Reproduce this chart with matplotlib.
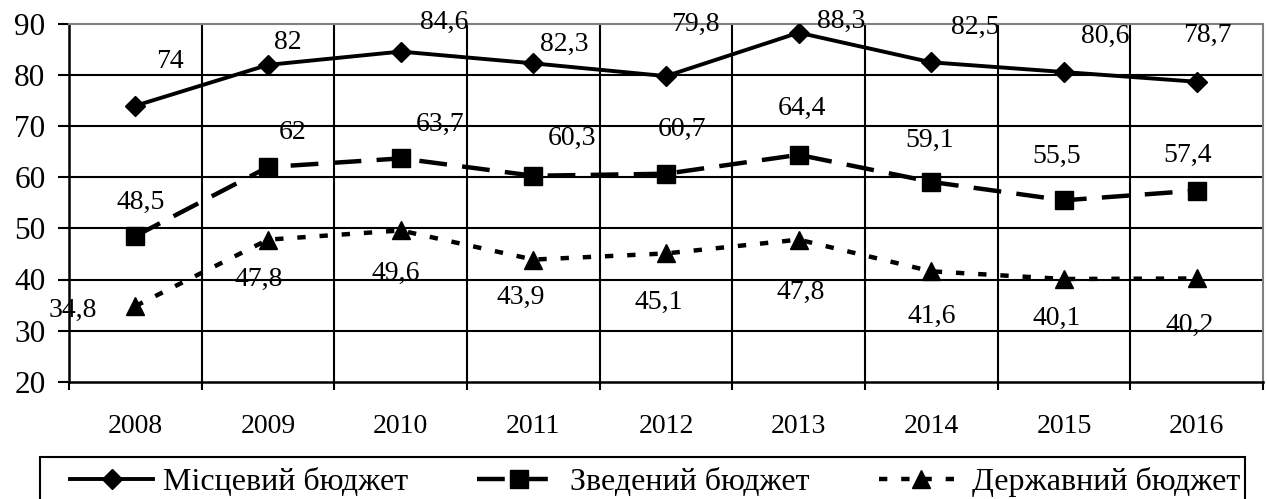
import matplotlib
matplotlib.use("Agg")
import matplotlib.pyplot as plt
from matplotlib.patches import Rectangle

plt.rcParams['font.family'] = ['Liberation Serif', 'DejaVu Serif']
plt.rcParams['lines.scale_dashes'] = False

years = ['2008', '2009', '2010', '2011', '2012', '2013', '2014', '2015', '2016']
local_budget = [74, 82, 84.6, 82.3, 79.8, 88.3, 82.5, 80.6, 78.7]
consolidated_budget = [48.5, 62, 63.7, 60.3, 60.7, 64.4, 59.1, 55.5, 57.4]
state_budget = [34.8, 47.8, 49.6, 43.9, 45.1, 47.8, 41.6, 40.1, 40.2]
series_names = ['Місцевий бюджет', 'Зведений бюджет', 'Державний бюджет']

# label offsets from each point, in pixels (dx right, dy up)
local_offsets = [(35, 44), (20, 22), (44, 29), (31, 19), (29, 52),
                 (43, 11), (44, 35), (41, 36), (11, 46)]
consolidated_offsets = [(5, 34), (25, 35), (39, 34), (39, 37), (16, 44),
                        (3, 46), (-2, 41), (-7, 44), (-9, 35)]
state_offsets = [(-63, -4), (-9, -40), (-5, -43), (-13, -38), (-7, -49),
                 (2, -53), (0, -45), (-7, -39), (-7, -47)]

W, H = 1267, 499
fig = plt.figure(figsize=(W / 100, H / 100), dpi=100)
ax = fig.add_axes([69 / W, (H - 381.7) / H, (1263 - 69) / W, (381.7 - 24) / H])

x = list(range(len(years)))
ax.set_xlim(-0.5, len(years) - 0.5)
ax.set_ylim(20, 90)

# grid
for yv in range(30, 90, 10):
    ax.axhline(yv, color='black', lw=1.5, zorder=1)
for xv in [i + 0.5 for i in range(len(years) - 1)]:
    ax.axvline(xv, color='black', lw=1.5, zorder=1)

for side in ['top', 'right']:
    ax.spines[side].set_color('#808080')
    ax.spines[side].set_linewidth(1.5)
for side in ['left', 'bottom']:
    ax.spines[side].set_color('black')
    ax.spines[side].set_linewidth(1.8)

ax.set_yticks(range(20, 91, 10))
ax.tick_params(axis='y', length=8, width=1.5, pad=9, labelsize=22.5)

ax.set_xticks([i - 0.5 for i in range(len(years) + 1)])
ax.set_xticklabels([])
ax.set_xticks(x, minor=True)
ax.set_xticklabels(years, minor=True)
ax.tick_params(axis='x', which='major', length=6, width=1.5)
ax.tick_params(axis='x', which='minor', length=0, pad=23, labelsize=20)

ax.plot(x, local_budget, color='black', lw=2.8, marker='D', ms=10.5,
        zorder=3, label=series_names[0])
ax.plot(x, consolidated_budget, color='black', lw=3.2, marker='s', ms=13,
        dashes=(20, 11), zorder=3, label=series_names[1])
ax.plot(x, state_budget, color='black', lw=3.2, marker='^', ms=13,
        dashes=(6, 10), zorder=3, label=series_names[2])

def fmt(v):
    s = f'{v:g}'
    return s.replace('.', ',')

for values, offsets in [(local_budget, local_offsets),
                        (consolidated_budget, consolidated_offsets),
                        (state_budget, state_offsets)]:
    for xi, v, (dx, dy) in zip(x, values, offsets):
        ax.annotate(fmt(v), (xi, v), xytext=(dx * 0.72, dy * 0.72),
                    textcoords='offset points', ha='center', va='center',
                    fontsize=20, zorder=4, annotation_clip=False)

# legend box (its lower edge runs past the bottom of the figure)
fig.add_artist(Rectangle((40 / W, -0.05), (1245 - 40) / W, (H - 457) / H + 0.05,
                         transform=fig.transFigure, fill=False,
                         edgecolor='black', linewidth=1.5))
leg = fig.legend(loc='center', ncol=3, mode='expand',
                 bbox_to_anchor=(70 / W, (H - 482) / H, (1240 - 70) / W, 0),
                 frameon=False, fontsize=23, handlelength=2.6,
                 handletextpad=0.3, borderaxespad=0, borderpad=0)

fig.savefig('out.png', dpi=100)
